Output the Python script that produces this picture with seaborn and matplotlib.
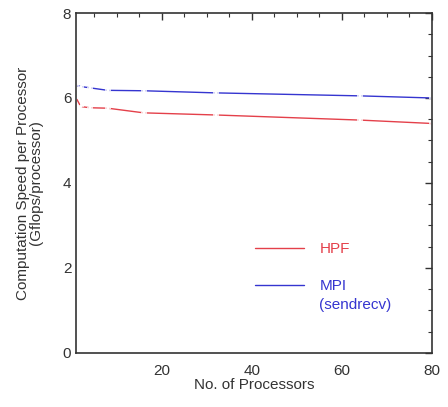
import matplotlib
matplotlib.use("Agg")
import matplotlib.pyplot as plt
import seaborn as sns
import pandas as pd
from matplotlib.ticker import MultipleLocator

procs = [1, 2, 4, 8, 16, 32, 64, 80]
hpf = [6.0, 5.8, 5.77, 5.76, 5.65, 5.6, 5.48, 5.4]
mpi = [6.3, 6.27, 6.24, 6.18, 6.17, 6.12, 6.05, 6.0]
series_names = ["HPF", "MPI"]
mpi_note = "(sendrecv)"
colors = ["#e4404a", "#3535d0"]

df = pd.DataFrame({
    "procs": procs * 2,
    "speed": hpf + mpi,
    "series": [series_names[0]] * len(procs) + [series_names[1]] * len(procs),
})

sns.set_style("white")
plt.rcParams['font.family'] = ['Liberation Sans', 'DejaVu Sans']

fig = plt.figure(figsize=(4.48, 4.07), dpi=100)
ax = fig.add_axes([0.17, 0.133, 0.794, 0.835])
sns.lineplot(data=df, x="procs", y="speed", hue="series", palette=colors,
             marker="+", markersize=5, markeredgewidth=1.1, linewidth=1.0,
             ax=ax, legend=True)

ax.set_xlim(1, 80)
ax.set_ylim(0, 8)
ax.xaxis.set_major_locator(MultipleLocator(20))
ax.xaxis.set_minor_locator(MultipleLocator(5))
ax.yaxis.set_major_locator(MultipleLocator(2))
ax.yaxis.set_minor_locator(MultipleLocator(0.5))
ax.tick_params(which="both", direction="in", top=True, right=True, color="#333333")
ax.tick_params(which="major", length=5, width=1, labelsize=11, colors="#333333")
ax.tick_params(axis="x", which="major", pad=8)
ax.tick_params(which="minor", length=3, width=0.8)
for s in ax.spines.values():
    s.set_color("#333333")
    s.set_linewidth(1.2)

ax.set_xlabel("No. of Processors", fontsize=11, color="#333333", labelpad=0)
ax.set_ylabel("Computation Speed per Processor\n(Gflops/processor)", fontsize=11,
              color="#333333", labelpad=14, linespacing=0.95)

leg = ax.legend(loc="lower right", bbox_to_anchor=(0.808, 0.135), frameon=False,
                fontsize=11, handlelength=3.2, handletextpad=1.0,
                labelspacing=1.5, labelcolor="linecolor")
for h in leg.legend_handles:
    h.set_marker("")

fig.canvas.draw()
mpi_txt = leg.get_texts()[1]
bb = mpi_txt.get_window_extent()
fig.text(bb.x0 / fig.bbox.width, (bb.y0 - 19) / fig.bbox.height, mpi_note,
         fontsize=11, color=colors[1], ha="left", va="bottom")

fig.savefig("out.png", dpi=100)
